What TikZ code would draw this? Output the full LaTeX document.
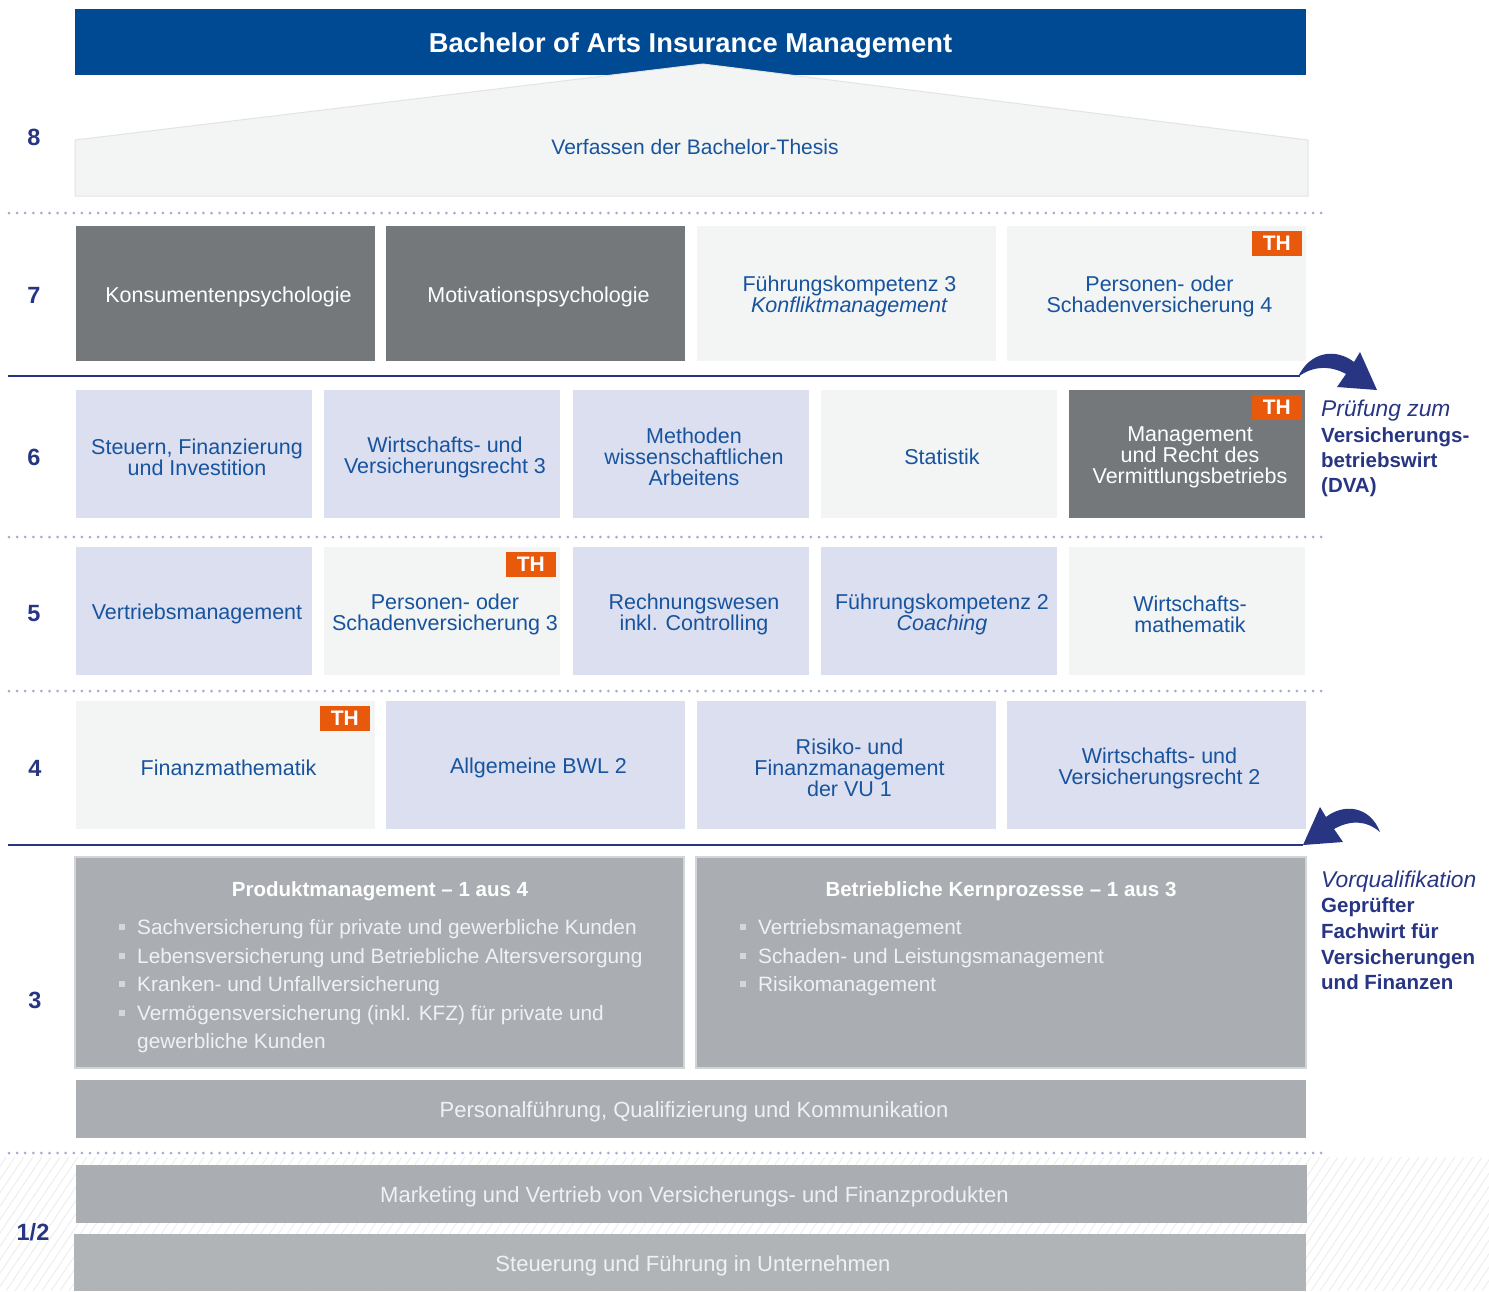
\documentclass[tikz,border=0pt]{standalone}
\usepackage{fontspec}
\setmainfont{Liberation Sans}
\setsansfont{Liberation Sans}
\definecolor{titleblue}{RGB}{0,74,148}
\definecolor{tblue}{RGB}{24,84,158}
\definecolor{navy}{RGB}{40,53,131}
\definecolor{dotc}{RGB}{165,170,212}
\definecolor{lav}{RGB}{220,223,240}
\definecolor{lgray}{RGB}{243,244,244}
\definecolor{dgray}{RGB}{116,120,123}
\definecolor{mgray}{RGB}{170,174,178}
\definecolor{mgrayb}{RGB}{177,180,183}
\definecolor{mborder}{RGB}{210,213,215}
\definecolor{thorange}{RGB}{232,89,12}
\definecolor{paletext}{RGB}{240,241,242}
\definecolor{hatchc}{RGB}{236,237,238}
\definecolor{housebd}{RGB}{226,228,228}
\definecolor{bulletc}{RGB}{212,215,217}
% #1 style, #2 name, #3 x1, #4 y1, #5 x2, #6 y2, #7 text
\newcommand\mkcell[7]{%
  \node[#1, minimum width={(#5-#3)*1pt}, minimum height={(#6-#4)*1pt}] (#2) at ({(#3+#5)/2},{(#4+#6)/2}) {};
  \node[#1, fill=none, draw=none, minimum width=0pt, minimum height=0pt] (#2t) at ([xshift=3pt,yshift=-3pt]#2.center) {#7};}
\tikzset{
  cellbase/.style={inner sep=0pt, outer sep=0pt, align=center, font=\fontsize{21.5}{21}\selectfont},
  lav/.style={cellbase, fill=lav, text=tblue},
  lgt/.style={cellbase, fill=lgray, text=tblue},
  dgr/.style={cellbase, fill=dgray, text=white},
  mgr/.style={cellbase, fill=mgray, text=paletext, font=\fontsize{22}{22}\selectfont},
  mgrb/.style={cellbase, fill=mgrayb, text=paletext, font=\fontsize{22}{22}\selectfont},
  bigbox/.style={cellbase, fill=mgray, draw=mborder, line width=1.5pt},
  thbadge/.style={fill=thorange, text=white, font=\bfseries\fontsize{21}{21}\selectfont, minimum width=50pt, minimum height=25pt, inner sep=0pt, anchor=north east},
  rowlbl/.style={text=navy, font=\bfseries\fontsize{23.5}{23.5}\selectfont, inner sep=0pt},
  dotline/.style={draw=dotc, line width=3pt, line cap=round, dash pattern=on 0pt off 8.1pt},
  solidline/.style={draw=navy, line width=2pt},
  swoosh/.style={fill=navy, draw=none},
  headtxt/.style={text=white, font=\bfseries\fontsize{20.5}{20.5}\selectfont, inner sep=0pt},
  bullettxt/.style={text=paletext, font=\fontsize{20.8}{20.8}\selectfont, inner sep=0pt, anchor=base west},
  bulletsq/.style={fill=bulletc, minimum size=6pt, inner sep=0pt},
  annoit/.style={text=navy, font=\itshape\fontsize{22.8}{22.8}\selectfont, inner sep=0pt, anchor=base west},
  annobf/.style={text=navy, font=\bfseries\fontsize{20.5}{20.5}\selectfont, inner sep=0pt, anchor=base west},
}
\begin{document}
\begin{tikzpicture}[x=1pt,y=-1pt]
\useasboundingbox (0,0) rectangle (1489,1291);
\fill[white] (0,0) rectangle (1489,1291);
% hatching at bottom
\begin{scope}
\clip (0,1157) rectangle (1489,1291);
\foreach \i in {-120,-111,...,1500} {\draw[hatchc, line width=0.9pt] (\i,1291) -- ({\i+90},1157);}
\end{scope}
% title bar and house
\node[fill=titleblue, minimum width=1231pt, minimum height=66pt, inner sep=0pt] (title) at (690.5,42) {};
\node[text=white, font=\bfseries\fontsize{27.3}{27.3}\selectfont, inner sep=0pt] (titletxt) at ([yshift=-3pt]title.center) {Bachelor of Arts Insurance Management};
\path[fill=lgray, draw=housebd, line width=1pt] (75,196) -- (75,140) -- (703,64) -- (1308,140) -- (1308,196) -- cycle;
\node[text=tblue, font=\fontsize{21}{21}\selectfont, inner sep=0pt] (thesis) at (695,147) {Verfassen der Bachelor-Thesis};
% separators
\draw[dotline] (9,213) -- (1325,213);
\draw[dotline] (9,537) -- (1325,537);
\draw[dotline] (9,691) -- (1325,691);
\draw[dotline] (9,1153) -- (1325,1153);
% row 7
\mkcell{dgr}{c71}{76}{226}{375}{361}{Konsumentenpsychologie}
\mkcell{dgr}{c72}{386}{226}{685}{361}{Motivationspsychologie}
\mkcell{lgt}{c73}{697}{226}{996}{361}{Führungskompetenz 3\\\textit{Konfliktmanagement}}
\mkcell{lgt}{c74}{1007}{226}{1306}{361}{Personen- oder\\Schadenversicherung 4}
\node[thbadge] (th74) at ([xshift=-4pt,yshift=-5pt]c74.north east) {TH};
% row 6
\mkcell{lav}{c61}{76}{390}{312}{518}{Steuern, Finanzierung\\und Investition}
\mkcell{lav}{c62}{324}{390}{560}{518}{Wirtschafts- und\\Versicherungsrecht 3}
\mkcell{lav}{c63}{573}{390}{809}{518}{Methoden\\wissenschaftlichen\\Arbeitens}
\mkcell{lgt}{c64}{821}{390}{1057}{518}{Statistik}
\mkcell{dgr}{c65}{1069}{390}{1305}{518}{Management\\und Recht des\\Vermittlungsbetriebs}
\node[thbadge] (th65) at ([xshift=-3pt,yshift=-5pt]c65.north east) {TH};
% row 5
\mkcell{lav}{c51}{76}{547}{312}{675}{Vertriebsmanagement}
\mkcell{lgt}{c52}{324}{547}{560}{675}{Personen- oder\\Schadenversicherung 3}
\node[thbadge] (th52) at ([xshift=-4pt,yshift=-5pt]c52.north east) {TH};
\mkcell{lav}{c53}{573}{547}{809}{675}{Rechnungswesen\\inkl. Controlling}
\mkcell{lav}{c54}{821}{547}{1057}{675}{Führungskompetenz 2\\\textit{Coaching}}
\mkcell{lgt}{c55}{1069}{547}{1305}{675}{Wirtschafts-\\mathematik}
% row 4
\mkcell{lgt}{c41}{76}{701}{375}{829}{Finanzmathematik}
\node[thbadge] (th41) at ([xshift=-5pt,yshift=-5pt]c41.north east) {TH};
\mkcell{lav}{c42}{386}{701}{685}{829}{Allgemeine BWL 2}
\mkcell{lav}{c43}{697}{701}{996}{829}{Risiko- und\\Finanzmanagement\\der VU 1}
\mkcell{lav}{c44}{1007}{701}{1306}{829}{Wirtschafts- und\\Versicherungsrecht 2}
% solid lines
\coordinate (l1end) at (1300,376);
\coordinate (l2end) at (1303,845);
\draw[solidline] (8,376) -- (l1end);
\draw[solidline] (8,845) -- (l2end);
% arrows
\path[swoosh] (1298,377) .. controls (1310,351) and (1336,348) .. (1354,362) -- (1360,352) -- (1377,390) -- (1337,387) -- (1346,374) .. controls (1330,365) and (1312,366) .. (1298,377) -- cycle;
\begin{scope}[shift={(2680,455)}, xscale=-1]
\path[swoosh] (1300,377) .. controls (1310,351) and (1336,348) .. (1354,362) -- (1360,352) -- (1377,390) -- (1337,387) -- (1346,374) .. controls (1330,365) and (1314,365) .. (1300,377) -- cycle;
\end{scope}
% row 3
\node[bigbox, minimum width=609pt, minimum height=211pt] (p1) at (379.5,962.5) {};
\node[bigbox, minimum width=610pt, minimum height=211pt] (p2) at (1001,962.5) {};
\node[headtxt] (h1) at (380,891) {Produktmanagement – 1 aus 4};
\node[headtxt] (h2) at (1001,891) {Betriebliche Kernprozesse – 1 aus 3};
\node[bullettxt] (a1) at (137,934) {Sachversicherung für private und gewerbliche Kunden};
\node[bullettxt] (a2) at (137,963) {Lebensversicherung und Betriebliche Altersversorgung};
\node[bullettxt] (a3) at (137,991) {Kranken- und Unfallversicherung};
\node[bullettxt] (a4) at (137,1020) {Vermögensversicherung (inkl. KFZ) für private und};
\node[bullettxt] (a5) at (137,1048) {gewerbliche Kunden};
\node[bullettxt] (b1) at (758,934) {Vertriebsmanagement};
\node[bullettxt] (b2) at (758,963) {Schaden- und Leistungsmanagement};
\node[bullettxt] (b3) at (758,991) {Risikomanagement};
\foreach \y [count=\k] in {927,956,984,1013} {\node[bulletsq] (sa\k) at (122,\y) {};}
\foreach \y [count=\k] in {927,956,984} {\node[bulletsq] (sb\k) at (743,\y) {};}
% bars
\mkcell{mgr}{bar1}{76}{1080}{1306}{1138}{Personalführung, Qualifizierung und Kommunikation}
\mkcell{mgr}{bar2}{76}{1165}{1307}{1223}{Marketing und Vertrieb von Versicherungs- und Finanzprodukten}
\mkcell{mgrb}{bar3}{74}{1234}{1306}{1291}{Steuerung und Führung in Unternehmen}
% row labels
\node[rowlbl] (r8) at (34,137) {8};
\node[rowlbl] (r7) at (34,295) {7};
\node[rowlbl] (r6) at (34,457) {6};
\node[rowlbl] (r5) at (34,614) {5};
\node[rowlbl] (r4) at (35,768) {4};
\node[rowlbl] (r3) at (35,1000) {3};
\node[rowlbl] (r12) at (33,1232) {1/2};
% annotations
\node[annoit] (n1) at (1321,416) {Prüfung zum};
\node[annobf] (n2) at (1321,442) {Versicherungs-};
\node[annobf] (n3) at (1321,467) {betriebswirt};
\node[annobf] (n4) at (1321,492) {(DVA)};
\node[annoit] (m1) at (1321,887) {Vorqualifikation};
\node[annobf] (m2) at (1321,912) {Geprüfter};
\node[annobf] (m3) at (1321,938) {Fachwirt für};
\node[annobf] (m4) at (1321,964) {Versicherungen};
\node[annobf] (m5) at (1321,989) {und Finanzen};
\end{tikzpicture}
\end{document}
